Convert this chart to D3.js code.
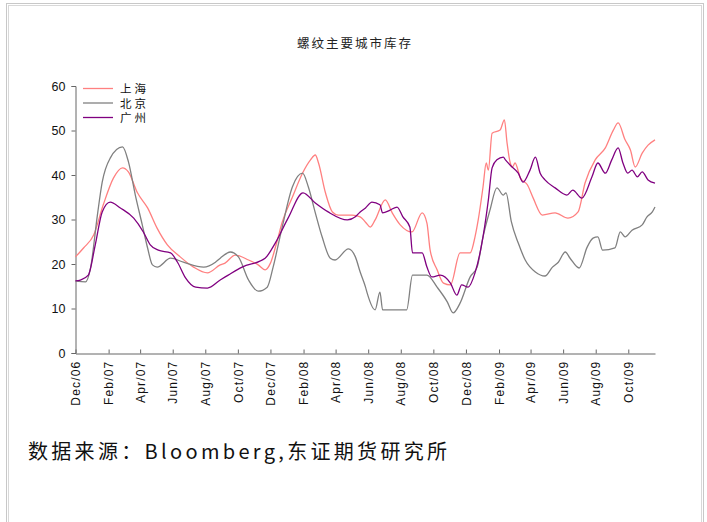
<!DOCTYPE html>
<html><head><meta charset="utf-8">
<script src="https://cdn.jsdelivr.net/npm/d3@7"></script>
<style>
html,body{margin:0;padding:0;background:#fff;}
svg{display:block;}
text{font-family:"Liberation Sans",Arial,sans-serif;}
.cjk{font-family:"Noto Sans CJK SC","Liberation Sans",sans-serif;}
.leg{font-family:"Liberation Sans","Noto Sans CJK SC",sans-serif;}
</style></head>
<body>
<script>
const title = "螺纹主要城市库存";
const source = "数据来源：Bloomberg,东证期货研究所";
const seriesNames = ["上海", "北京", "广州"];
const seriesColors = ["#ff8080", "#808080", "#800080"];
const yTicks = [0, 10, 20, 30, 40, 50, 60];
const tickDates = ["2006-12-01","2007-02-01","2007-04-01","2007-06-01","2007-08-01","2007-10-01","2007-12-01","2008-02-01","2008-04-01","2008-06-01","2008-08-01","2008-10-01","2008-12-01","2009-02-01","2009-04-01","2009-06-01","2009-08-01","2009-10-01"];
const tickLabels = ["Dec/06","Feb/07","Apr/07","Jun/07","Aug/07","Oct/07","Dec/07","Feb/08","Apr/08","Jun/08","Aug/08","Oct/08","Dec/08","Feb/09","Apr/09","Jun/09","Aug/09","Oct/09"];

// 上海
const shanghai = [
["2006-12-01",21.6],["2006-12-16",23.6],["2007-01-04",26.5],["2007-01-22",33.3],["2007-02-10",39.3],["2007-02-27",41.6],["2007-03-10",40.7],["2007-03-27",36],["2007-04-15",32.6],["2007-05-03",28],["2007-05-22",24.3],["2007-06-15",21.6],["2007-07-10",19.3],["2007-08-05",18],["2007-08-29",19.8],["2007-09-07",20.2],["2007-09-26",22],["2007-10-21",20.9],["2007-11-08",19.8],["2007-11-21",18.7],["2007-12-01",20.2],["2007-12-14",25.4],["2007-12-23",29.4],["2008-01-11",35],["2008-01-30",40.4],["2008-02-14",43.4],["2008-02-23",44.5],["2008-02-29",42.7],["2008-03-13",36],["2008-03-26",31.7],["2008-04-06",31],["2008-05-02",31],["2008-05-17",30.6],["2008-05-27",29.4],["2008-06-05",28.3],["2008-06-14",29.9],["2008-07-03",34.4],["2008-07-16",31.5],["2008-07-31",28.8],["2008-08-22",27.2],["2008-09-10",31.5],["2008-09-19",29.2],["2008-09-25",23.1],["2008-10-08",18.7],["2008-10-20",15.7],["2008-11-02",15.3],["2008-11-20",22.5],["2008-12-09",22.5],["2008-12-18",26.1],["2008-12-24",29.9],["2009-01-02",37.3],["2009-01-08",42.7],["2009-01-12",41.1],["2009-01-19",49.4],["2009-02-03",50.1],["2009-02-11",52.4],["2009-02-16",47.2],["2009-02-22",42.7],["2009-02-26",41.8],["2009-03-03",42.7],["2009-03-13",39.3],["2009-03-26",37.8],["2009-04-06",34.8],["2009-04-23",31],["2009-05-17",31.5],["2009-06-10",30.3],["2009-06-29",31.7],["2009-07-12",38.2],["2009-07-31",43.4],["2009-08-19",46.1],["2009-09-03",50.1],["2009-09-12",51.7],["2009-09-25",47.9],["2009-10-05",45.6],["2009-10-14",41.8],["2009-10-27",44.9],["2009-11-07",46.7],["2009-11-20",47.9]
];
// 北京
const beijing = [
["2006-12-01",16.2],["2006-12-20",16],["2006-12-29",19],["2007-01-11",31],["2007-01-20",38.4],["2007-02-04",43.8],["2007-02-27",46.3],["2007-03-10",43],["2007-03-23",35.5],["2007-04-05",28.8],["2007-04-15",23.6],["2007-04-24",19.8],["2007-05-03",19.3],["2007-05-28",21.3],["2007-06-21",20.4],["2007-07-29",19.3],["2007-08-20",20.4],["2007-08-29",21.3],["2007-09-17",22.7],["2007-10-02",21.6],["2007-10-21",16.4],["2007-11-08",13.9],["2007-11-25",14.8],["2007-12-06",19.3],["2007-12-23",28.3],["2008-01-11",37.3],["2008-01-30",40.4],["2008-02-10",37.3],["2008-02-23",31.5],["2008-03-07",26],["2008-03-22",21.3],["2008-03-31",20.9],["2008-04-25",23.4],["2008-05-08",21.6],["2008-05-17",18.2],["2008-05-27",14.8],["2008-05-30",13.5],["2008-06-14",9.7],["2008-06-23",13.7],["2008-06-28",9.7],["2008-08-12",9.7],["2008-08-23",17.5],["2008-09-19",17.5],["2008-10-08",14.8],["2008-10-27",11.5],["2008-11-07",9],["2008-11-20",11.2],["2008-12-09",17.1],["2008-12-22",19.3],["2009-01-02",26.1],["2009-01-15",32.1],["2009-01-28",37.1],["2009-02-09",35.5],["2009-02-14",36],["2009-02-24",29.5],["2009-03-09",24.7],["2009-03-22",20.9],["2009-04-10",18.2],["2009-04-28",17.3],["2009-05-12",19.3],["2009-05-23",20.4],["2009-06-05",22.7],["2009-06-14",21.3],["2009-07-01",19.1],["2009-07-16",23.8],["2009-07-27",25.8],["2009-08-05",26.1],["2009-08-14",23.1],["2009-09-06",23.6],["2009-09-16",27.2],["2009-09-25",26.1],["2009-10-08",27.6],["2009-10-27",28.8],["2009-11-05",30.6],["2009-11-15",31.7],["2009-11-20",32.8]
];
// 广州
const guangzhou = [
["2006-12-01",16.2],["2006-12-10",16.4],["2006-12-25",17.5],["2007-01-07",24.3],["2007-01-20",31.7],["2007-02-04",33.9],["2007-02-23",32.6],["2007-03-20",30.3],["2007-04-07",27.2],["2007-04-20",24.3],["2007-05-05",23.1],["2007-05-28",22.5],["2007-06-10",20.4],["2007-06-25",16.9],["2007-07-14",14.8],["2007-08-05",14.6],["2007-08-29",16.4],["2007-09-13",17.5],["2007-10-09",19.3],["2007-11-21",21.3],["2007-12-10",24.7],["2008-01-03",30.3],["2008-01-31",36],["2008-02-23",33.7],["2008-03-18",31.7],["2008-04-23",29.9],["2008-05-08",30.6],["2008-05-17",31.7],["2008-05-27",32.6],["2008-06-08",33.9],["2008-06-23",33.3],["2008-06-28",31.5],["2008-07-12",32.1],["2008-07-25",32.8],["2008-08-05",30.6],["2008-08-18",28.3],["2008-08-23",22.5],["2008-09-10",22.5],["2008-09-19",19.3],["2008-09-28",17.1],["2008-10-14",17.5],["2008-11-02",15.7],["2008-11-14",13],["2008-11-23",15.3],["2008-12-05",14.8],["2008-12-18",18],["2009-01-02",26.1],["2009-01-12",34.4],["2009-01-19",41.6],["2009-01-28",43.4],["2009-02-09",44],["2009-02-13",43.4],["2009-02-22",42.2],["2009-03-09",40.4],["2009-03-18",38.4],["2009-03-31",41.1],["2009-04-10",44],["2009-04-19",40.4],["2009-04-28",38.9],["2009-05-17",37.1],["2009-06-08",35.5],["2009-06-19",36.6],["2009-07-06",34.8],["2009-07-25",39.6],["2009-08-05",42.7],["2009-08-19",40.4],["2009-08-31",43.4],["2009-09-12",46.1],["2009-09-21",42.7],["2009-09-30",40.4],["2009-10-08",41.1],["2009-10-18",39.6],["2009-10-27",40.7],["2009-11-07",38.9],["2009-11-20",38.2]
];
const seriesData = [shanghai, beijing, guangzhou];

const W = 707, H = 522;
const svg = d3.select("body").append("svg").attr("width", W).attr("height", H);

// frame
svg.append("rect").attr("x",6.5).attr("y",3.5).attr("width",697).attr("height",530)
  .attr("fill","none").attr("stroke","#c8c8c8").attr("stroke-width",1);
svg.append("rect").attr("x",8.5).attr("y",5.5).attr("width",693).attr("height",530)
  .attr("fill","none").attr("stroke","#d8d8d8").attr("stroke-width",1);

const parse = d3.timeParse("%Y-%m-%d");
const x = d3.scaleTime().domain([parse("2006-12-01"), parse("2009-11-20")]).range([75.5, 655]);
const y = d3.scaleLinear().domain([0, 60]).range([353, 86]);

// title
svg.append("text").attr("class","cjk").attr("x",355).attr("y",48).attr("text-anchor","middle")
  .attr("font-size",12.5).attr("letter-spacing",2).attr("fill","#222").text(title);

// y axis
const yAxis = d3.axisLeft(y).tickValues(yTicks).tickSize(4).tickPadding(6).tickFormat(d3.format("d"));
const gy = svg.append("g").attr("transform","translate(75.5,0)").call(yAxis);
gy.select(".domain").attr("stroke","#666");
gy.selectAll(".tick line").attr("stroke","#666");
gy.selectAll(".tick text").attr("font-size",12.5).attr("fill","#111").attr("font-family","Liberation Sans, Arial, sans-serif");

// x axis
const xAxis = d3.axisBottom(x).tickValues(tickDates.map(parse)).tickSize(-4).tickSizeOuter(0)
  .tickFormat((d,i) => tickLabels[i]);
const gx = svg.append("g").attr("transform","translate(0,353.5)").call(xAxis);
gx.select(".domain").attr("stroke","#666");
gx.selectAll(".tick line").attr("stroke","#666");
gx.selectAll(".tick text").attr("font-size",12).attr("letter-spacing",1.2).attr("fill","#111")
  .attr("font-family","Liberation Sans, Arial, sans-serif")
  .attr("transform","rotate(-90)").attr("text-anchor","end")
  .attr("x",-7).attr("y",0).attr("dy","0.35em");

// lines
const line = d3.line().x(d => x(parse(d[0]))).y(d => y(d[1])).curve(d3.curveMonotoneX);
seriesData.forEach((s,i) => {
  svg.append("path").datum(s).attr("fill","none").attr("stroke",seriesColors[i])
    .attr("stroke-width",1.3).attr("d",line);
});

// legend
seriesNames.forEach((n,i) => {
  const ly = 88.5 + i*14.5;
  svg.append("line").attr("x1",83).attr("x2",113).attr("y1",ly).attr("y2",ly)
    .attr("stroke",seriesColors[i]).attr("stroke-width",1.3);
  svg.append("text").attr("class","leg").attr("x",120).attr("y",ly+4.5).attr("font-size",11.5)
    .attr("letter-spacing",3).attr("fill","#111").text(n);
});

// source
svg.append("text").attr("class","cjk").attr("x",28).attr("y",459).attr("font-size",20)
  .attr("textLength",419).attr("lengthAdjust","spacing")
  .attr("fill","#111").text(source);
</script>
</body></html>
